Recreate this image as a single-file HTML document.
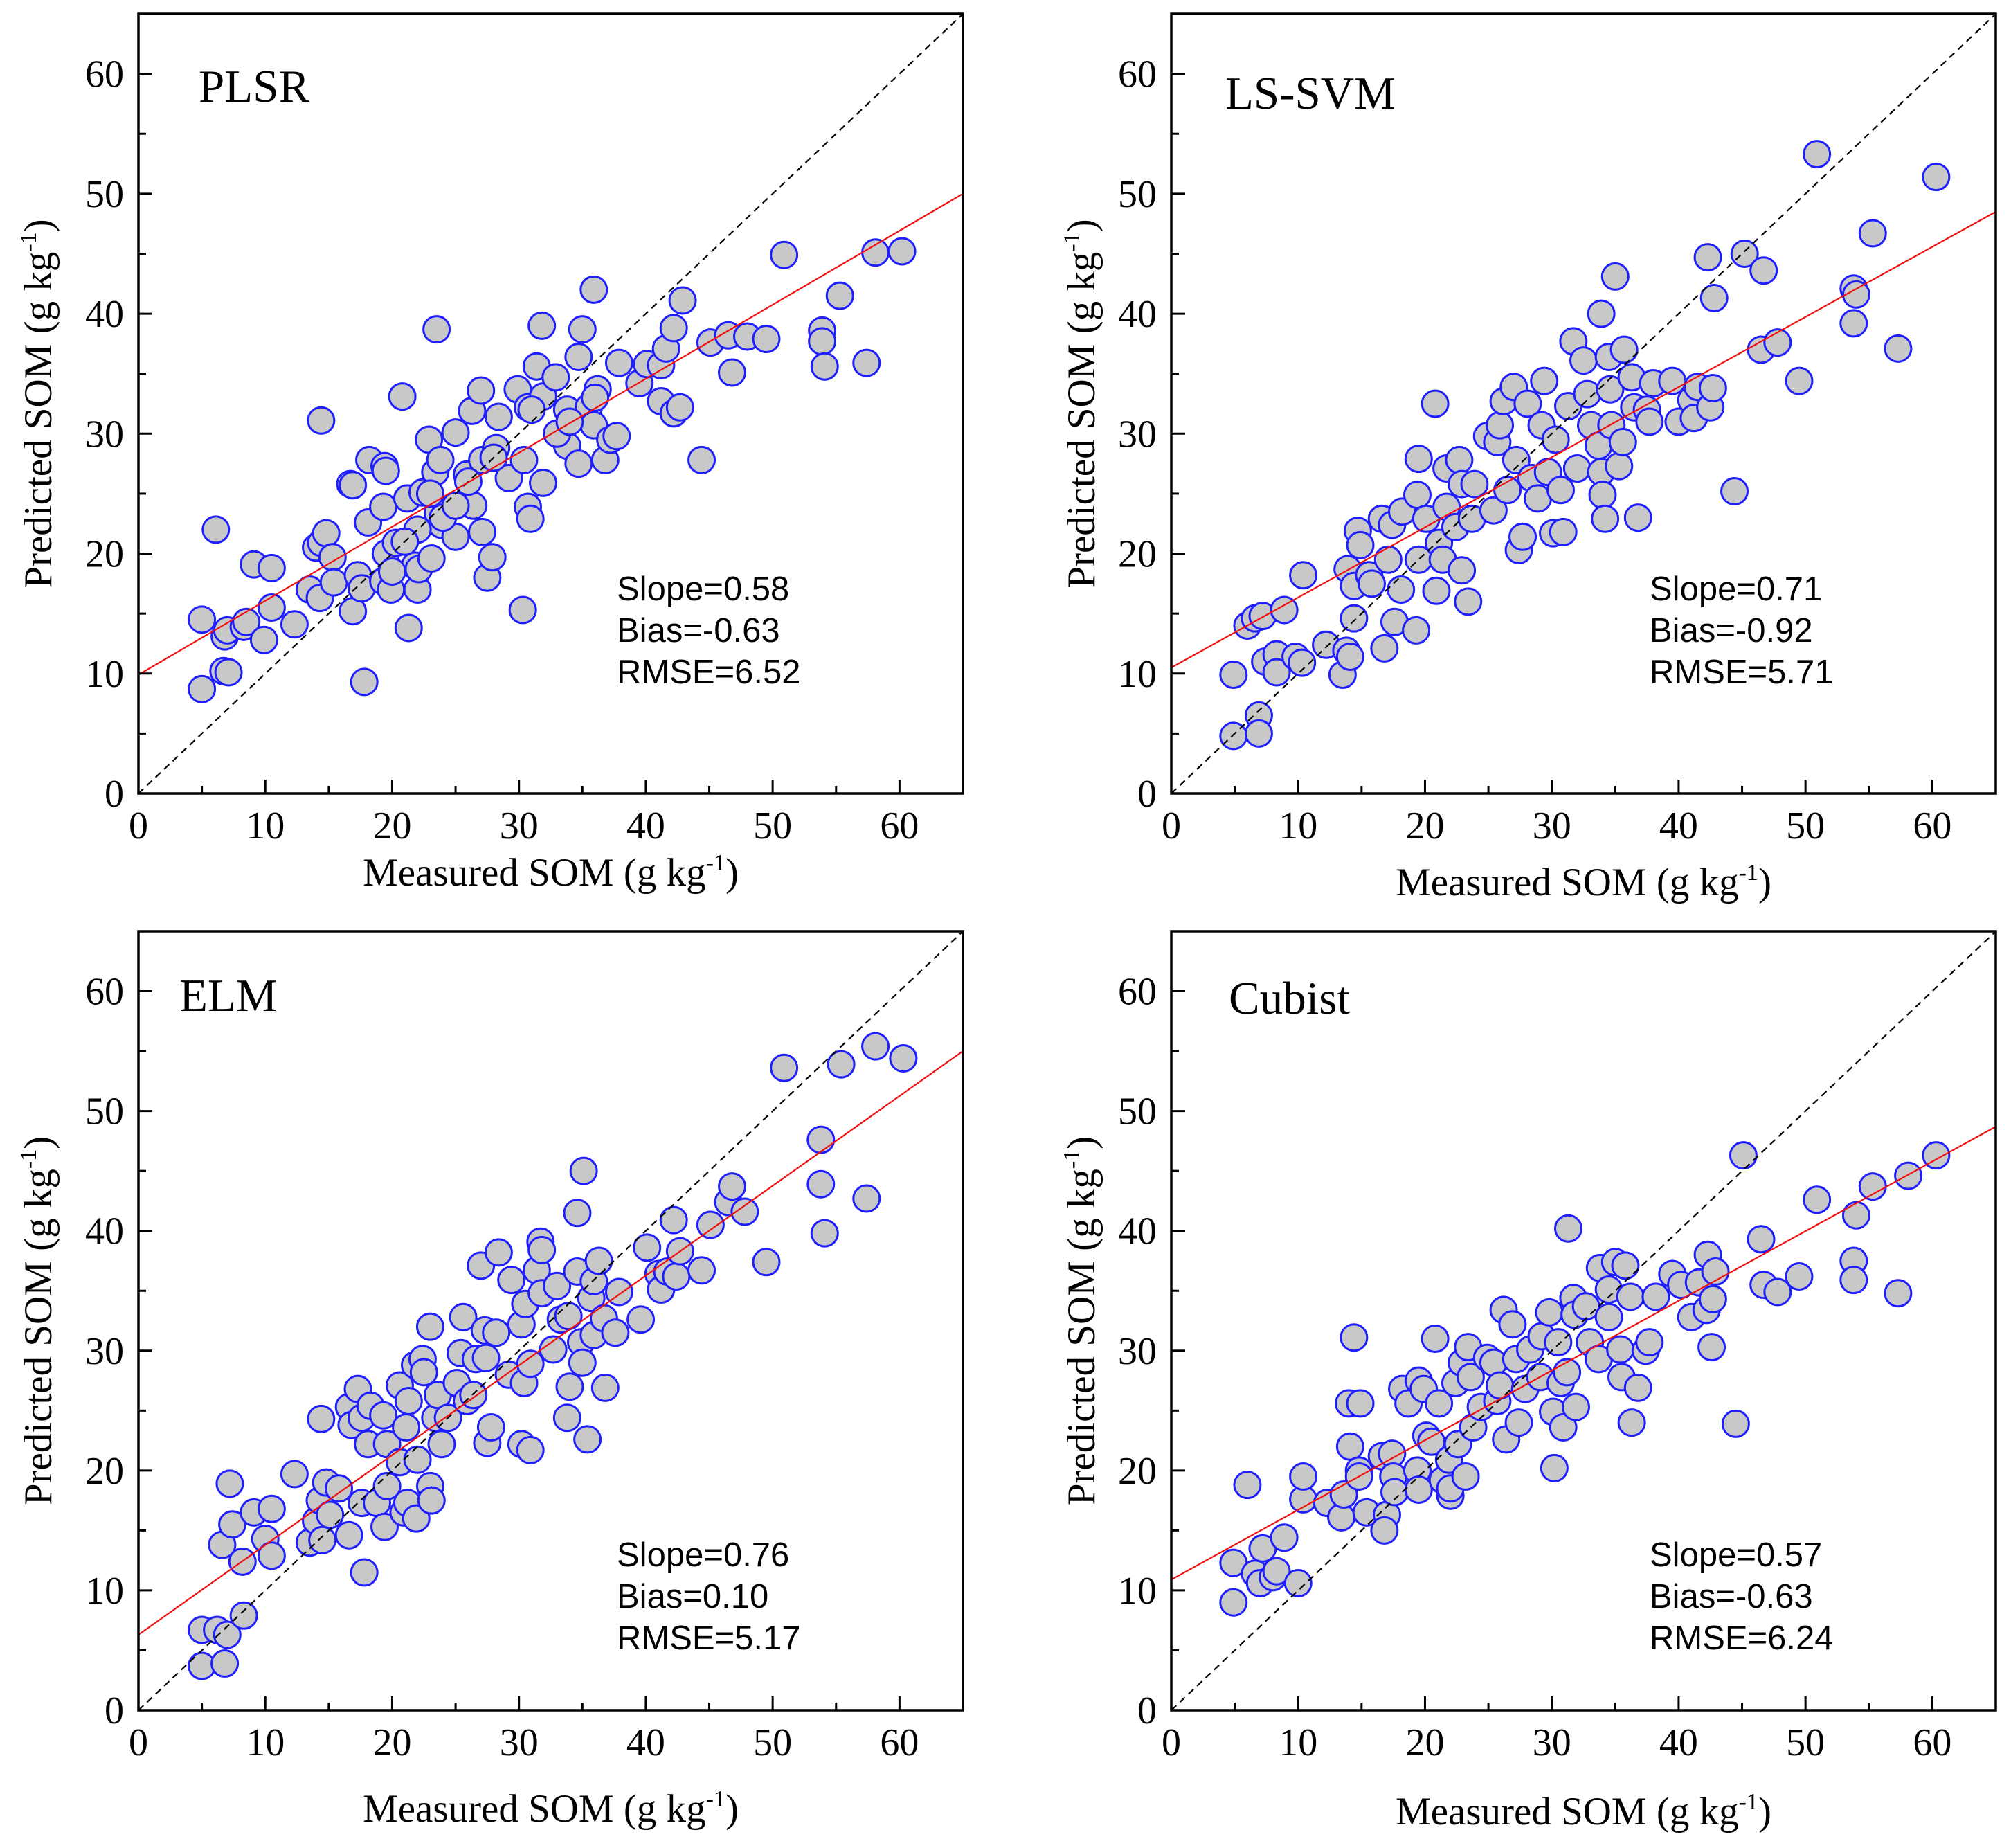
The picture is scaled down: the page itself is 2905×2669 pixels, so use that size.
<!DOCTYPE html>
<html><head><meta charset="utf-8">
<style>
html,body{margin:0;padding:0;background:#fff;}
svg{display:block;}
.tk{font-family:"Liberation Serif",serif;font-size:56px;fill:#000;}
.ttl{font-family:"Liberation Serif",serif;font-size:57px;fill:#000;}
.pl{font-family:"Liberation Serif",serif;font-size:67px;fill:#000;}
.st{font-family:"Liberation Sans",sans-serif;font-size:49px;fill:#000;}
</style></head>
<body>
<svg id="fig" width="2905" height="2669" viewBox="0 0 2905 2669" xmlns="http://www.w3.org/2000/svg"></svg>
<script>
// ---- data ----
const plsrX=[5.0,6.1,5.0,6.7,7.1,6.8,7.0,8.3,8.5,9.1,10.5,9.9,10.5,12.3,13.5,14.0,14.4,14.8,14.4,14.3,15.3,15.4,16.7,16.9,16.9,17.3,17.6,17.8,18.2,19.4,19.5,18.1,19.3,19.5,19.3,19.9,20.3,20.8,21.2,21.3,21.8,22.0,22.1,22.4,22.9,23.5,23.4,23.6,23.1,23.9,23.8,25.0,25.0,25.9,26.4,26.3,27.0,27.1,27.1,27.5,27.9,28.4,28.2,29.2,29.9,30.3,30.7,30.9,30.4,30.7,31.4,31.8,31.9,31.9,32.9,33.8,33.8,34.7,35.0,34.7,35.9,35.5,36.2,35.9,36.8,37.2,37.7,37.9,39.5,40.1,41.2,41.2,41.6,42.2,42.2,42.7,42.9,44.4,45.1,46.5,46.8,48.0,49.5,50.9,53.9,53.9,54.1,55.3,57.4,58.1,60.2,24,26,22,21,28,33,34,36,31,20,23,25];
const plsrY=[14.5,22.0,8.7,10.2,10.1,13.1,13.6,13.9,14.3,19.1,18.8,12.8,15.5,14.1,17.0,20.5,20.9,21.7,31.1,16.3,19.7,17.6,25.8,25.7,15.2,18.2,17.1,9.3,27.8,27.3,26.9,22.6,23.9,20.0,17.7,17.0,20.9,33.1,24.6,13.8,19.0,17.0,18.7,25.1,29.5,38.7,26.8,23.4,19.6,22.4,27.8,21.4,30.1,26.6,24.0,31.9,33.6,27.8,21.8,18.0,19.7,31.4,28.8,26.3,33.7,15.3,23.9,22.9,27.8,32.2,35.6,39.0,33.1,25.9,34.7,29.0,32.0,27.5,38.7,36.4,42.0,32.2,33.7,30.7,27.8,29.5,29.8,35.9,34.2,35.8,35.7,32.7,37.1,38.8,31.7,32.2,41.1,27.8,37.6,38.2,35.1,38.1,37.9,44.9,38.6,37.7,35.6,41.5,35.9,45.1,45.2,23,26,22,21,28,30,31,33,32,18.5,25,24];
const svmX=[4.9,4.9,6.9,6.9,6.0,6.6,7.2,7.4,8.3,8.3,8.9,9.8,10.3,10.4,12.2,13.5,13.8,14.1,14.4,13.9,14.4,14.7,14.9,15.6,15.8,16.6,16.8,17.1,17.4,17.6,18.1,18.2,19.3,19.5,19.4,19.5,20.1,20.8,20.9,21.1,21.4,21.7,21.7,22.7,22.4,22.9,22.9,23.4,23.7,23.9,24.9,25.4,25.7,25.9,26.2,26.5,27.0,27.2,27.4,27.7,28.1,28.4,28.9,29.2,29.4,29.7,30.1,30.3,30.7,30.9,31.3,31.7,32.0,32.5,32.8,33.1,33.7,33.9,33.9,34.0,34.2,34.5,34.6,34.7,35.0,35.3,35.6,35.7,36.3,36.5,36.8,37.5,37.7,38.0,39.5,40.0,41.0,41.2,41.5,42.3,42.5,42.7,42.8,44.4,45.2,46.5,46.7,47.8,49.5,50.9,53.8,54.0,53.8,55.3,57.3,60.3];
const svmY=[9.9,4.8,6.5,5.0,14.0,14.6,14.8,11.0,11.6,10.1,15.3,11.4,10.9,18.2,12.4,9.9,11.9,11.4,14.6,18.7,17.3,21.9,20.7,18.2,17.5,22.9,12.1,19.5,22.4,14.3,17.0,23.5,13.6,27.9,24.9,19.5,22.9,32.5,16.9,20.9,19.5,27.1,23.9,27.8,22.2,25.8,18.6,16.0,22.9,25.8,29.8,23.6,29.3,30.7,32.7,25.3,33.9,27.8,20.3,21.4,32.5,26.3,24.6,30.7,34.4,26.8,21.7,29.5,25.3,21.8,32.3,37.7,27.1,36.1,33.3,30.7,29.0,40.0,26.8,24.9,22.9,36.4,33.7,30.7,43.1,27.3,29.3,37.0,34.7,32.2,23.0,32.0,31.0,34.2,34.4,31.0,32.8,31.3,33.9,44.7,32.2,33.8,41.3,25.2,45.0,37.0,43.6,37.6,34.4,53.3,42.1,41.6,39.2,46.7,37.1,51.4];
const elmX=[5.0,5.0,6.2,7.0,6.8,8.3,7.2,6.6,7.4,8.2,9.1,10.0,10.5,10.5,12.3,13.5,14.0,14.3,14.5,14.4,14.8,15.1,15.8,16.6,16.6,16.8,17.3,17.6,17.6,17.8,18.1,18.3,18.8,19.3,19.4,19.6,19.6,20.6,20.6,20.9,21.1,21.2,21.3,21.8,21.9,22.0,22.4,22.5,23.0,23.0,23.1,23.4,23.6,23.9,24.4,25.1,25.4,25.6,25.9,26.4,26.6,27.0,27.3,27.4,27.5,27.8,28.2,28.4,29.2,29.4,30.2,30.2,30.4,30.5,30.9,30.9,31.4,31.7,31.8,31.8,32.7,33.0,33.3,33.8,33.9,34.0,34.6,34.6,34.9,35.0,35.1,35.4,35.7,35.9,35.9,36.3,36.7,36.8,37.6,37.9,39.6,40.1,41.0,41.2,41.7,42.2,42.4,42.7,44.4,45.1,46.5,46.8,47.8,49.5,50.9,53.8,53.8,54.1,55.4,57.4,58.1,60.3];
const elmY=[6.7,3.7,6.7,6.3,3.9,7.9,18.9,13.8,15.5,12.4,16.5,14.3,16.8,12.9,19.7,14.0,15.8,17.5,14.2,24.3,19.0,16.3,18.5,14.6,25.3,23.8,26.8,24.4,17.3,11.5,22.2,25.4,17.3,24.6,15.3,22.2,18.7,27.1,20.7,16.5,23.6,17.3,25.8,28.8,16.0,20.9,29.3,28.2,32.0,18.7,17.5,24.4,26.3,22.2,24.4,27.3,29.8,32.8,25.8,26.3,29.3,37.1,31.7,29.4,22.3,23.6,31.5,38.2,28.0,35.9,32.2,22.2,27.3,33.9,21.7,28.9,36.7,39.1,38.4,34.8,30.1,35.4,32.6,24.4,32.9,27.0,41.5,36.6,30.7,29.0,45.0,22.6,34.4,35.8,31.3,37.5,32.7,26.9,31.5,34.9,32.6,38.6,36.4,35.1,36.6,40.9,36.2,38.3,36.7,40.5,42.4,43.7,41.6,37.4,53.6,47.6,43.9,39.8,53.9,42.7,55.4,54.4];
const cubX=[4.9,4.9,6.0,6.6,7.0,7.2,8.0,8.3,8.9,10.0,10.4,10.4,12.3,13.4,13.6,14.1,14.0,14.4,14.8,14.9,14.8,15.4,16.6,17.0,16.8,17.4,17.5,17.6,18.2,18.7,19.5,19.4,19.5,19.9,20.1,20.5,20.8,21.1,21.4,21.9,22.0,22.0,22.4,22.6,22.9,23.2,23.4,23.6,23.8,24.4,24.9,25.4,25.7,25.9,26.2,26.4,26.9,27.2,27.4,27.9,28.3,29.1,29.2,29.8,30.1,30.2,30.5,30.7,30.9,31.2,31.3,31.7,31.8,31.9,32.7,33.0,33.7,33.8,34.5,34.5,35.0,35.4,35.5,35.8,36.2,36.3,36.8,37.4,37.7,38.2,39.5,40.2,41.0,41.6,42.2,42.3,42.6,42.7,42.9,44.5,45.1,46.5,46.7,47.8,49.5,50.9,53.8,53.8,54.0,55.3,57.3,58.1,60.3];
const cubY=[9.0,12.3,18.8,11.4,10.6,13.5,11.1,11.6,14.4,10.6,17.6,19.5,17.3,16.1,18.0,22.0,25.6,31.1,20.0,25.6,19.5,16.5,21.2,16.3,15.0,21.4,19.5,18.2,26.8,25.6,27.5,20.0,18.4,26.8,22.9,22.4,31.0,25.6,19.2,20.9,17.9,18.5,27.3,22.2,29.0,19.5,30.3,27.8,23.6,25.3,29.4,29.0,25.8,27.1,33.4,22.6,32.2,29.3,24.0,26.8,30.1,27.8,31.2,33.2,24.9,20.2,30.7,27.3,23.6,28.2,40.2,34.4,33.0,25.3,33.7,30.7,29.3,36.9,35.1,32.8,37.4,30.1,27.8,37.1,34.5,24.0,26.9,30.0,30.7,34.5,36.4,35.5,32.8,35.7,33.4,38.0,30.3,34.3,36.6,23.9,46.3,39.3,35.5,34.9,36.2,42.6,37.5,35.9,41.3,43.7,34.8,44.6,46.3];
// fit lines: predicted value at measured 0 and at measured 65
const fitStart=[9.9,10.5,6.3,10.9];
const fitEnd=[50.0,48.5,55.0,48.7];
const modelNames=["PLSR","LS-SVM","ELM","Cubist"];
const slopeText=["Slope=0.58","Slope=0.71","Slope=0.76","Slope=0.57"];
const biasText=["Bias=-0.63","Bias=-0.92","Bias=0.10","Bias=-0.63"];
const rmseText=["RMSE=6.52","RMSE=5.71","RMSE=5.17","RMSE=6.24"];
const tickVals=[0,10,20,30,40,50,60];

const NS="http://www.w3.org/2000/svg";
const svg=document.getElementById('fig');
function mk(tag,attrs,parent){const e=document.createElementNS(NS,tag);for(const k in attrs)e.setAttribute(k,attrs[k]);(parent||svg).appendChild(e);return e;}

const panels=[
 {L:200,R:1391,T:20,B:1146,xs:plsrX,ys:plsrY,lab:[287,147],xt:1279,yt:55,sy:867},
 {L:1692,R:2883,T:20,B:1146,xs:svmX,ys:svmY,lab:[1770,157],xt:1293,yt:1562,sy:867},
 {L:200,R:1391,T:1345,B:2470,xs:elmX,ys:elmY,lab:[259,1460],xt:2631,yt:55,sy:2262},
 {L:1692,R:2883,T:1345,B:2470,xs:cubX,ys:cubY,lab:[1775,1464],xt:2635,yt:1562,sy:2262}
];
const key=["plsr","ls-svm","elm","cubist"];

panels.forEach((p,i)=>{
  const sx=v=>p.L+(p.R-p.L)*v/65;
  const sy=v=>p.B-(p.B-p.T)*v/65;
  const g=mk('g',{});
  
  
  const cid='clip'+i;
  const cp=mk('clipPath',{id:cid},g);
  mk('rect',{x:p.L,y:p.T,width:p.R-p.L,height:p.B-p.T},cp);
  const pg=mk('g',{'clip-path':'url(#'+cid+')'},g);
  
  
  for(let k=0;k<p.xs.length;k++){
    const c=mk('circle',{cx:sx(p.xs[k]),cy:sy(p.ys[k]),r:19,fill:'#c8c8c8',stroke:'#1e1eff','stroke-width':3},pg);
    
    
  }
  const d=mk('line',{x1:sx(0),y1:sy(0),x2:sx(65),y2:sy(65),stroke:'#000','stroke-width':2.2,'stroke-dasharray':'10,7','clip-path':'url(#'+cid+')'},g);
  
  
  const f=mk('line',{x1:sx(0),y1:sy(fitStart[i]),x2:sx(65),y2:sy(fitEnd[i]),stroke:'#f01010','stroke-width':2.2,'clip-path':'url(#'+cid+')'},g);
  
  
  const fr=mk('rect',{x:p.L,y:p.T,width:p.R-p.L,height:p.B-p.T,fill:'none',stroke:'#000','stroke-width':3.5},g);
  
  
  for(let v=0;v<=65;v+=5){
    const len=(v%10===0)?20:11;
    const tx=mk('line',{x1:sx(v),y1:p.B,x2:sx(v),y2:p.B-len,stroke:'#000','stroke-width':3},g);
    
    
    const ty=mk('line',{x1:p.L,y1:sy(v),x2:p.L+len,y2:sy(v),stroke:'#000','stroke-width':3},g);
    
    
  }
  tickVals.forEach(v=>{
    const a=mk('text',{x:sx(v),y:p.B+65,'text-anchor':'middle',class:'tk'},g);
    a.textContent=v;
    
    
    const b=mk('text',{x:p.L-21,y:sy(v)+19,'text-anchor':'end',class:'tk'},g);
    b.textContent=v;
    
    
  });
  const xt=mk('text',{x:(p.L+p.R)/2,y:p.xt,'text-anchor':'middle',class:'ttl'},g);
  xt.innerHTML='Measured SOM (g kg<tspan dy="-22" font-size="34">-1</tspan><tspan dy="22">)</tspan>';
  
  
  const cy=(p.T+p.B)/2;
  const yt=mk('text',{x:0,y:0,'text-anchor':'middle',class:'ttl',transform:'translate('+(p.yt+19)+','+cy+') rotate(-90)'},g);
  yt.innerHTML='Predicted SOM (g kg<tspan dy="-22" font-size="34">-1</tspan><tspan dy="22">)</tspan>';
  
  
  const ml=mk('text',{x:p.lab[0],y:p.lab[1],class:'pl'},g);
  ml.textContent=modelNames[i];
  
  
  const sxp=p.L+691;
  [slopeText[i],biasText[i],rmseText[i]].forEach((t,j)=>{
    const s=mk('text',{x:sxp,y:p.sy+j*60,class:'st'},g);
    s.textContent=t;
    
    
  });
});
</script>
</body></html>
